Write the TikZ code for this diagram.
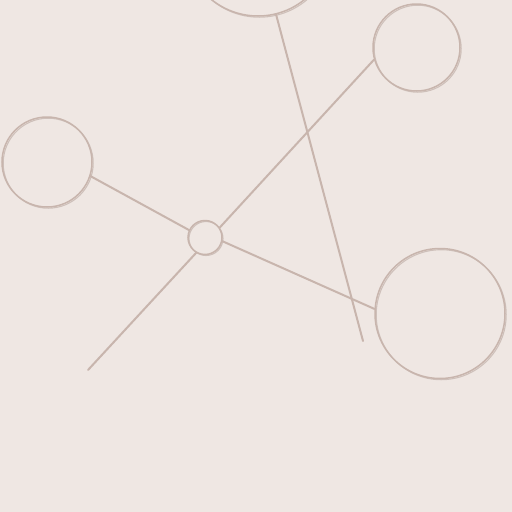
\documentclass[tikz,border=0pt]{standalone}
\usepackage{tikz}
\definecolor{bgcol}{HTML}{EFE7E3}
\definecolor{ink}{HTML}{C8B5AD}
\definecolor{shade}{HTML}{A8928A}
\tikzset{
  ring/.style={circle, draw=ink, line width=1.5pt, inner sep=0pt, minimum size=#1},
  ringshadow/.style={draw=shade, draw opacity=0.45, line width=1.1pt},
  rod/.style={draw=ink, line width=2pt, line cap=round}
}
\begin{document}
\begin{tikzpicture}[x=1pt,y=-1pt]
\fill[bgcol] (0,0) rectangle (512,512);
\useasboundingbox (0,0) rectangle (512,512);
% soft shadows of the rings
\draw[ringshadow] (259.2,-56.8) circle[radius=74];
\draw[ringshadow] (417.7,48.7) circle[radius=43.5];
\draw[ringshadow] (48.2,163.2) circle[radius=45];
\draw[ringshadow] (206,238.5) circle[radius=17];
\draw[ringshadow] (441.2,314.7) circle[radius=65];
\node[ring=148pt] (t) at (258,-58) {};
\node[ring=87pt] (tr) at (416.5,47.5) {};
\node[ring=90pt] (l) at (47,162) {};
\node[ring=34pt] (s) at (205,237.5) {};
\node[ring=130pt] (br) at (440,313.5) {};
\coordinate (e1) at (363,341);
\coordinate (e2) at (88,370);
\draw[rod] (t.284) -- (e1);
\draw[rod] (tr.196) -- (s.34);
\draw[rod] (s.240) -- (e2);
\draw[rod] (l.342) -- (s.155);
\draw[rod] (s.348) -- (br.176);
\end{tikzpicture}
\end{document}
